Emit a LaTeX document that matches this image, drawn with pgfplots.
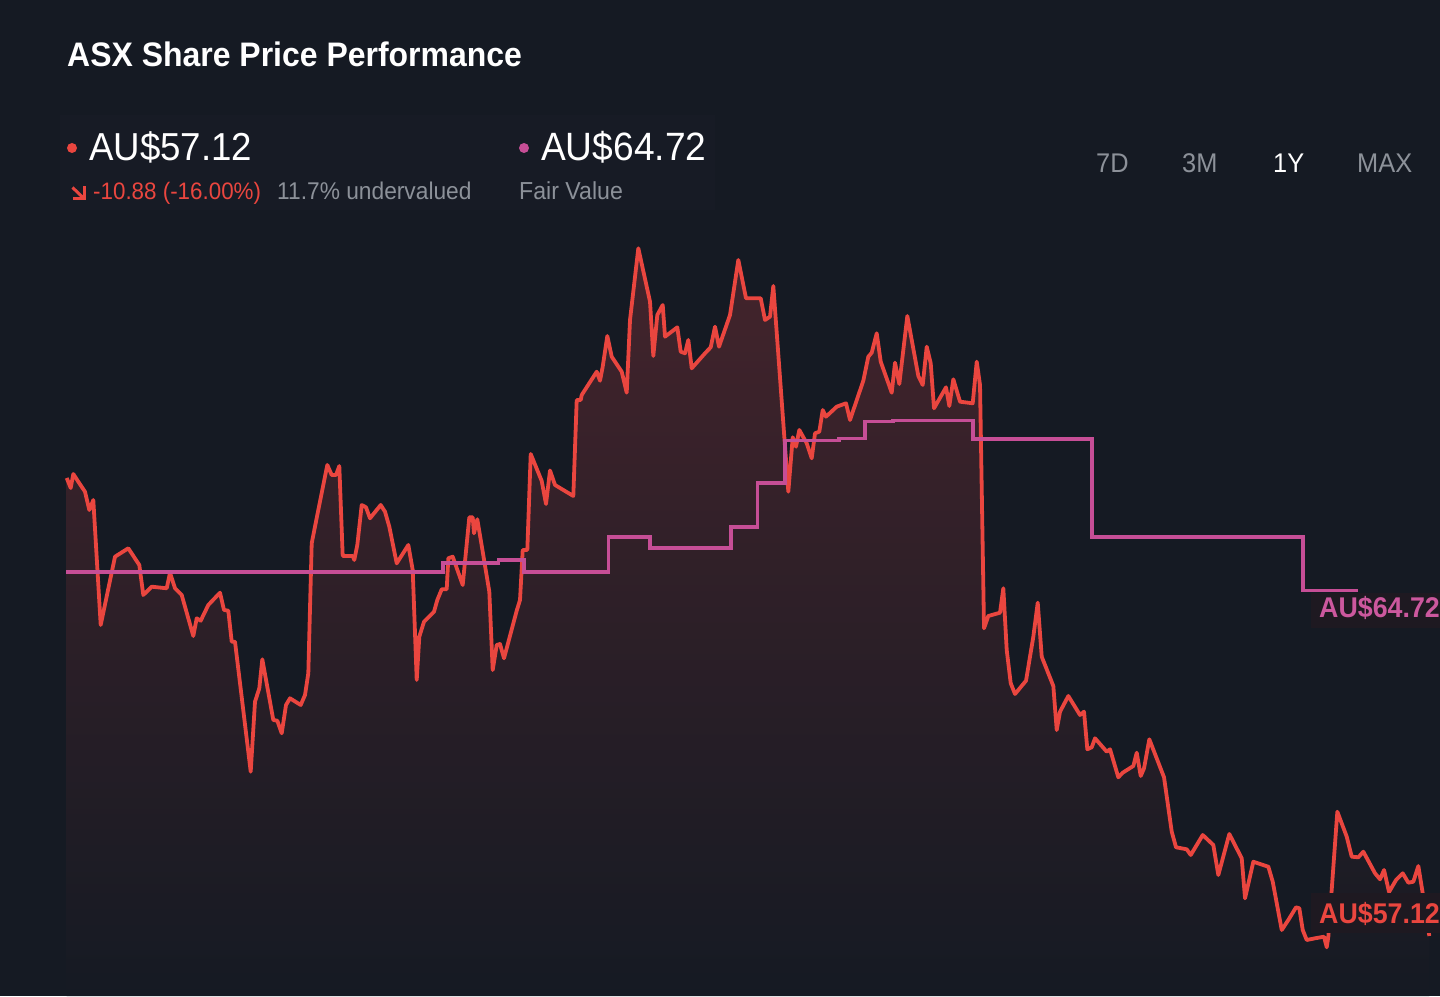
\documentclass[border=0pt]{standalone}
\usepackage{pgfplots}
\pgfplotsset{compat=1.18}
\usepackage{pgfplotstable}
\usepackage{fontspec}
\setmainfont{Liberation Sans}[FakeStretch=0.94]
\definecolor{bg}{RGB}{21,26,35}
\definecolor{hdr}{RGB}{23,27,37}
\definecolor{pricered}{RGB}{234,70,63}
\definecolor{fairmag}{RGB}{198,78,150}
\definecolor{labmag}{RGB}{204,88,158}
\definecolor{greytxt}{RGB}{140,145,153}
\definecolor{filltop}{RGB}{68,36,44}
\definecolor{boxbg}{RGB}{30,25,33}

\pgfplotstableread{
x y
66.7 478
70.7 488
73.3 474
78.3 481.7
85 491.7
89.3 510
93.3 500
100.7 625
115 556.7
128.3 548.3
139.3 565
143.3 595
151.7 586.7
166.7 588.3
170 572.7
175 588.3
181.7 595
193.3 636
196.7 618.3
200.7 620.7
208.3 605
220 592.7
224 610
228.3 610.7
231.7 641.7
235 641.7
250.7 771.7
255 701.7
259.3 688.3
262.3 659.3
273.3 720
277.3 720.7
281.7 733.3
286 705
290 698.3
300.7 705
305 695
308.3 673.3
311.7 543.3
316.7 518
327.3 465
331.7 475
336 475
339.3 466
342.7 556
352.7 556
354.3 560
357.3 545
361.7 505
366 507.3
370 518.3
380.7 505
385 511.7
389.3 526.7
396.7 563.3
408.3 545
412.7 570
416.7 680
419.3 636.7
424 621.7
434 611.7
437.3 600
441.7 589.3
446.7 589.3
448.3 558.3
452.7 556.7
462.7 585
469.3 517.3
472.7 517.3
474 533.3
477.3 519.3
482.7 551.7
489.3 591.7
492.7 670
496.7 645
500 644
504 658.3
516.7 610.7
520 600
522.7 550
527.3 550
530.7 454
541.7 481
546 504
550 470.5
555 485
573.3 496
576.7 400
580.7 400
581.7 395
596.7 371.7
600 380.7
602.7 366.7
607.3 336
611.7 356.7
621.7 371.7
626.7 392.7
630 320
638.3 248.3
650 301.7
653.3 356
657.3 315
662.7 305
665 336.7
677.3 327.3
680.7 351.7
685 353.3
688.3 340
691.7 368.3
705 353.3
710.7 347.3
715 326.7
719 346.7
730 315
738.3 260
746 298.3
760.7 298.3
765 320
770 316.7
773.3 286
788.3 491.7
792.7 437.3
796 446.7
799.3 430
806.7 443.3
811.7 458.3
815 433.3
819.3 431.7
822.7 410
826 416.7
836.7 406.7
846 403.3
850 420
863.3 380.7
868.3 356.7
871.7 352.7
876.7 333.3
880.7 361.7
891.7 392.7
895 362.7
899.3 384
907.3 316
918.3 376
922.7 385
926.7 346.7
930.7 363.3
934 408.3
946 387.3
949.3 406
953.3 379.3
960 401.7
972.7 403.3
976.7 361.7
980 385
984 628.3
988.3 616
1000 612.7
1003.3 588.3
1006.7 650
1010.7 683.3
1015 694
1026 680.7
1033.3 636.7
1037.7 602.7
1041.7 656.7
1053.3 686
1056.7 730
1060 711.7
1068.3 696
1080 715
1084 711.7
1087.3 749.3
1091.7 747.3
1095 738.3
1106.7 751.7
1110 749.3
1118.3 777.3
1122.7 772.7
1133.3 766
1136.7 752.7
1140.7 776
1144 768.3
1149.3 739.3
1164 777.3
1171.7 831.7
1176 847.3
1186.7 849.3
1190.7 855
1202.7 835
1213.3 845
1218.3 875
1229.3 834
1241.7 858.3
1245 898.3
1253.3 861.7
1268.3 866.7
1272.7 881.7
1281.7 930
1288.3 920
1296 907.3
1299.3 908.3
1302.7 930
1306.7 940
1315 938.3
1324 936.7
1326.7 947.3
1328.3 936.7
1337.3 811.7
1346.7 836.7
1351.7 856.7
1358.3 857.3
1363.3 851.7
1375 873.3
1380 879.3
1384 870
1389 892
1396 880
1402.7 873.3
1408.3 882.7
1413.3 881.7
1418.3 866
1422.7 893.3
1429.3 936
}\pricetab

\pgfplotstableread{
x y
66 572
442.7 572
442.7 563.3
498.3 563.3
498.3 560
524 560
524 572
608.3 572
608.3 537.3
650 537.3
650 548.3
730.7 548.3
730.7 527.3
757.3 527.3
757.3 483.3
785 483.3
785 440.7
839 440.7
839 438.5
865 438.5
865 421.7
893 421.7
893 420.7
972.7 420.7
972.7 438.8
1092 438.8
1092 537
1303 537
1303 590.5
1358 590.5
}\fairtab

\begin{document}
\begin{tikzpicture}[x=1bp, y=1bp]
\begin{axis}[
  at={(0,0)}, anchor=south west,
  scale only axis, width=1440bp, height=996bp,
  xmin=0, xmax=1440, ymin=0, ymax=996,
  axis lines=none, ticks=none,
  axis background/.style={fill=bg},
  clip=true,
]
% subtle header panel
\fill[hdr] (axis cs:60,786) rectangle (axis cs:715,881);
% area under price
\addplot[draw=none, top color=filltop, bottom color=bg, forget plot]
  table[x=x, y expr=996-\thisrow{y}] {\pricetab} \closedcycle;
% price line
\addplot[pricered, line width=3.8bp, line join=round, mark=none]
  table[x=x, y expr=996-\thisrow{y}] {\pricetab};
% fair value step
\addplot[fairmag, line width=3.6bp, line join=miter, mark=none]
  table[x=x, y expr=996-\thisrow{y}] {\fairtab};
\end{axis}
% right labels (drawn above the lines)
\fill[boxbg] (1311,368) rectangle (1440,403);
\node[anchor=base west, inner sep=0pt, text=labmag, font=\fontsize{28.5bp}{32bp}\selectfont\bfseries] at (1319,378) {AU\$64.72};
\fill[boxbg] (1311,63) rectangle (1440,103);
\node[anchor=base west, inner sep=0pt, text=pricered, font=\fontsize{28.5bp}{32bp}\selectfont\bfseries] at (1319,73) {AU\$57.12};

% title
\node[anchor=base west, inner sep=0pt, text=white, font=\fontsize{34bp}{40bp}\selectfont\bfseries] at (67,929) {ASX Share Price Performance};
% price and fair value headline
\fill[pricered] (72,848) circle[radius=5bp];
\node[anchor=base west, inner sep=0pt, text=white, font=\fontsize{39bp}{44bp}\selectfont] at (89,835) {AU\$57.12};
\fill[fairmag] (524,848) circle[radius=5bp];
\node[anchor=base west, inner sep=0pt, text=white, font=\fontsize{39.5bp}{44bp}\selectfont] at (541,835) {AU\$64.72};
% sub row: trend arrow icon
\draw[pricered, line width=3bp, line cap=butt] (72.5,808.5) -- (84,797.5);
\draw[pricered, line width=3bp, line join=miter] (73,797.8) -- (84.8,797.8) -- (84.8,809.5);
\node[anchor=base west, inner sep=0pt, text=pricered, font=\fontsize{23.8bp}{28bp}\selectfont] at (93,796) {-10.88 (-16.00\%)};
\node[anchor=base west, inner sep=0pt, text=greytxt, font=\fontsize{24.2bp}{28bp}\selectfont] at (277,796) {11.7\% undervalued};
\node[anchor=base west, inner sep=0pt, text=greytxt, font=\fontsize{24.6bp}{28bp}\selectfont] at (519,796) {Fair Value};
% range selector
\node[anchor=base west, inner sep=0pt, text=greytxt, font=\fontsize{27bp}{30bp}\selectfont] at (1096,823) {7D};
\node[anchor=base west, inner sep=0pt, text=greytxt, font=\fontsize{27bp}{30bp}\selectfont] at (1182,823) {3M};
\node[anchor=base west, inner sep=0pt, text=white, font=\fontsize{27bp}{30bp}\selectfont] at (1273,823) {1Y};
\node[anchor=base west, inner sep=0pt, text=greytxt, font=\fontsize{27bp}{30bp}\selectfont] at (1357,823) {MAX};
\pgfresetboundingbox
\useasboundingbox (0,0) rectangle (1440,996);
\end{tikzpicture}
\end{document}
